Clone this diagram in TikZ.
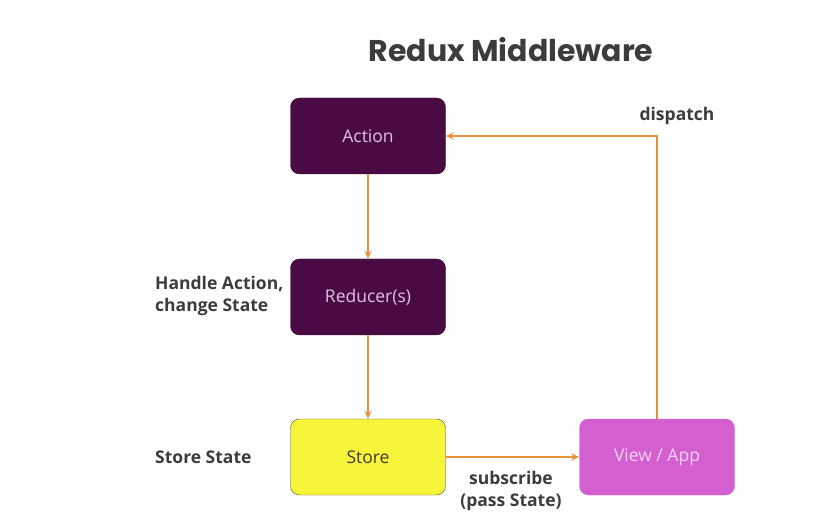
\documentclass[tikz,border=0pt]{standalone}
\usepackage{fontspec}
\setmainfont{Open Sans}
\newfontfamily\titlefont{Poppins}
\usetikzlibrary{arrows.meta}
\definecolor{plum}{HTML}{4A0B45}
\definecolor{plumtxt}{HTML}{E2C2E2}
\definecolor{yel}{HTML}{F7F53A}
\definecolor{mag}{HTML}{D35FD1}
\definecolor{magtxt}{HTML}{F5D2F2}
\definecolor{arr}{HTML}{E8913A}
\definecolor{lbl}{HTML}{3C3C3C}
\tikzset{
  box/.style={rounded corners=9pt, minimum width=155pt, minimum height=76pt, inner sep=0pt, font=\fontsize{17.5}{20}\selectfont},
  plumbox/.style={box, fill=plum, draw=plum!80!black, text=plumtxt},
  conn/.style={draw=arr, line width=2pt, -{Stealth[length=8pt,width=7pt]}},
  lab/.style={text=lbl, font=\fontsize{17.5}{21.5}\selectfont\bfseries, inner sep=0pt}
}
\begin{document}
\begin{tikzpicture}[x=1pt,y=1pt]
\useasboundingbox[fill=white] (0,0) rectangle (825,-521);
\node[text=lbl, font=\titlefont\fontsize{30}{34}\selectfont\bfseries] (title) at (511,-50) {Redux Middleware};
\node[plumbox] (action) at (368,-136) {Action};
\node[plumbox] (reducer) at (368,-297) {Reducer(s)};
\node[box, fill=yel, draw=black!70, text=lbl] (store) at (368,-457) {Store};
\node[box, fill=mag, draw=mag, text=magtxt] (view) at (657,-457) {View / App};
\coordinate (corner) at (657,-136);
\draw[conn] (action) -- (reducer);
\draw[conn] (reducer) -- (store);
\draw[conn] (store) -- (view);
\draw[conn] (view.north) -- (corner) -- (action.east);
\node[lab] (dispatch) at (677,-116) {dispatch};
\node[lab, anchor=west, align=left] (handle) at (155,-296) {Handle Action,\\change State};
\node[lab, anchor=west] (storestate) at (155,-457) {Store State};
\node[lab, align=center] (subscribe) at (511,-491) {subscribe\\(pass State)};
\end{tikzpicture}
\end{document}
